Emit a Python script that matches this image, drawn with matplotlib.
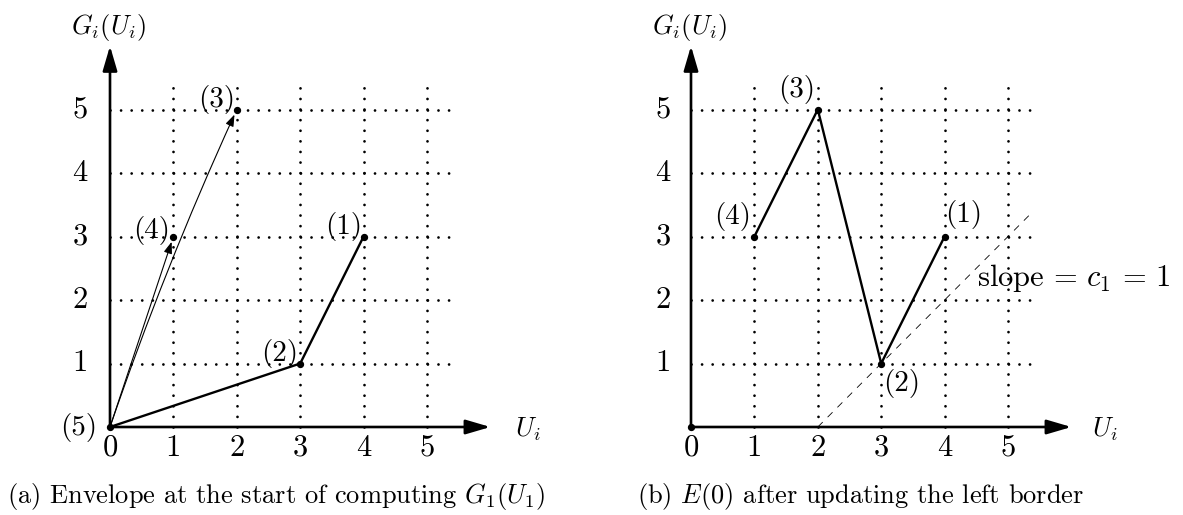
import numpy as np
import matplotlib.pyplot as plt

plt.rcParams['font.family'] = 'serif'
plt.rcParams['font.serif'] = ['cmr10']
plt.rcParams['mathtext.fontset'] = 'cm'
plt.rcParams['lines.scale_dashes'] = False

W, H = 1183, 515
fig = plt.figure(figsize=(W / 100, H / 100), dpi=100)

# data
ticks = [0, 1, 2, 3, 4, 5]
grid_vals = [1, 2, 3, 4, 5]
grid_end = 5.4
axis_end = 6.0

# (a) envelope at start
a_env_u = [0, 3, 4]
a_env_g = [0, 1, 3]
a_pts_u = [4, 3, 2, 1, 0]
a_pts_g = [3, 1, 5, 3, 0]
a_labels = ["(1)", "(2)", "(3)", "(4)", "(5)"]
a_arrow_u = [1, 2]
a_arrow_g = [3, 5]

# (b) after updating left border
b_pts_u = [4, 3, 2, 1]
b_pts_g = [3, 1, 5, 3]
b_labels = ["(1)", "(2)", "(3)", "(4)"]
b_env_u = [1, 2, 3, 4]
b_env_g = [3, 5, 1, 3]
slope_u = [2, 5.35]
slope_g = [0, 3.35]

FS = 21
PT = 0.72  # points per pixel at dpi 100
SX, SY = 63.4, 63.5


def panel(ox, oy):
    x0, x1, y0, y1 = -0.8, 6.8, -0.6, 6.6
    left = (ox + x0 * SX) / W
    bottom = (H - oy + y0 * SY) / H
    ax = fig.add_axes([left, bottom, (x1 - x0) * SX / W, (y1 - y0) * SY / H])
    ax.set_xlim(x0, x1)
    ax.set_ylim(y0, y1)
    ax.axis('off')
    return ax


def frame(ax, ulab_x, ytick_x):
    hdot = (0, (0.01, SX / 6 * PT))
    vdot = (0, (0.01, SY / 6 * PT))
    for v in grid_vals:
        ax.plot([0, grid_end], [v, v], color='k', lw=2.0, ls=hdot,
                dash_capstyle='round', zorder=1)
        ax.plot([v, v], [0, grid_end], color='k', lw=2.0, ls=vdot,
                dash_capstyle='round', zorder=1)
    ap = dict(arrowstyle='-|>,head_length=0.75,head_width=0.22', lw=1.9,
              color='k', shrinkA=0, shrinkB=0, mutation_scale=20)
    ax.annotate('', xy=(axis_end, 0), xytext=(0, 0), arrowprops=ap)
    ax.annotate('', xy=(0, axis_end), xytext=(0, 0), arrowprops=ap)
    for t in ticks:
        ax.text(t, -0.33, str(t), ha='center', va='center', fontsize=22)
    for t in ticks[1:]:
        ax.text(ytick_x, t, str(t), ha='center', va='center', fontsize=22)
    ax.text(-0.02, 6.29, r'$G_i(U_i)$', ha='center', va='center', fontsize=19)
    ax.text(ulab_x, -0.03, r'$U_i$', ha='center', va='center', fontsize=19)


# panel (a)
ax = panel(110, 427)
frame(ax, 6.59, -0.47)
ax.plot(a_env_u, a_env_g, color='k', lw=1.7, zorder=3)
for u, g in zip(a_arrow_u, a_arrow_g):
    rad = -0.025 if g == 5 else 0.0
    ax.annotate('', xy=(u, g), xytext=(0, 0),
                arrowprops=dict(arrowstyle='-|>,head_length=0.5,head_width=0.18',
                                lw=0.8, color='k', shrinkA=0, shrinkB=4,
                                mutation_scale=14,
                                connectionstyle='arc3,rad=%g' % rad), zorder=3)
ax.scatter(a_pts_u, a_pts_g, s=18, color='k', zorder=4)
a_lab_pos = [(3.68, 3.15), (2.68, 1.16), (1.69, 5.15), (0.66, 3.1), (-0.5, 0.0)]
for lab, (x, y) in zip(a_labels, a_lab_pos):
    ax.text(x, y, lab, ha='center', va='center', fontsize=FS)

# panel (b)
ax = panel(691, 427)
frame(ax, 6.52, -0.44)
ax.plot(slope_u, slope_g, color='k', lw=0.6, ls=(0, (5, 5)), zorder=2)
ax.plot(b_env_u, b_env_g, color='k', lw=1.7, zorder=3)
ax.scatter(b_pts_u + [0], b_pts_g + [0], s=18, color='k', zorder=4)
b_lab_pos = [(4.3, 3.34), (3.33, 0.69), (1.67, 5.32), (0.66, 3.32)]
for lab, (x, y) in zip(b_labels, b_lab_pos):
    ax.text(x, y, lab, ha='center', va='center', fontsize=FS)
ax.text(4.51, 2.34, r'$\mathrm{slope}\,=\,c_1\,=\,1$', ha='left', va='center',
        fontsize=22)

fig.text(7 / W, 1 - 497 / H, r'(a) Envelope at the start of computing $G_1(U_1)$',
         ha='left', va='center', fontsize=19)
fig.text(637 / W, 1 - 497 / H, r'(b) $E(0)$ after updating the left border',
         ha='left', va='center', fontsize=19)

fig.savefig('out.png', dpi=100)
